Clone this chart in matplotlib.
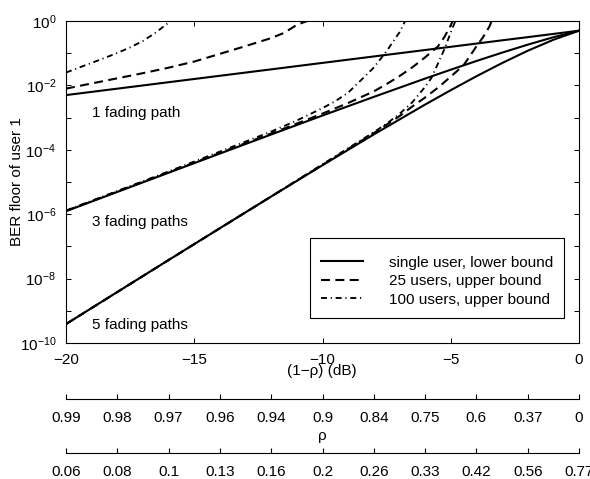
import matplotlib
matplotlib.use("Agg")
import matplotlib.pyplot as plt
from matplotlib.lines import Line2D
from matplotlib.patches import Rectangle

plt.rcParams['font.family'] = ['Liberation Sans', 'DejaVu Sans']
plt.rcParams['mathtext.fontset'] = 'custom'
plt.rcParams['mathtext.rm'] = 'Liberation Sans'
plt.rcParams['mathtext.it'] = 'Liberation Sans:italic'
plt.rcParams['mathtext.bf'] = 'Liberation Sans:bold'

# ---------------- data ----------------
db_grid = [-20, -18, -16, -14, -12, -10, -8, -6, -5, -4, -3, -2, -1, 0]
single_1 = [5.0e-3, 7.92e-3, 1.256e-2, 1.99e-2, 3.15e-2, 5.0e-2, 7.92e-2, 0.1256, 0.158, 0.199, 0.251, 0.315, 0.397, 0.5]
single_3 = [1.24e-6, 4.92e-6, 1.94e-5, 7.65e-5, 2.99e-4, 1.16e-3, 4.40e-3, 1.63e-2, 3.07e-2, 5.72e-2, 0.104, 0.184, 0.313, 0.5]
single_5 = [3.87e-10, 3.84e-9, 3.77e-8, 3.68e-7, 3.54e-6, 3.32e-5, 3.00e-4, 2.54e-3, 7.10e-3, 1.92e-2, 4.94e-2, 0.119, 0.261, 0.5]

db_1_25 = [-20, -19, -18, -17, -16, -15, -14, -13, -12, -11.5, -11, -10.6, -10.3]
ber_1_25 = [7.94e-3, 1.15e-2, 1.66e-2, 2.40e-2, 3.55e-2, 5.50e-2, 9.55e-2, 0.166, 0.295, 0.427, 0.759, 1.0, 1.58]

db_1_100 = [-20, -19.5, -19, -18.5, -18, -17.5, -17, -16.5, -16, -15.7]
ber_1_100 = [0.0251, 0.0355, 0.0501, 0.0708, 0.102, 0.151, 0.240, 0.437, 0.891, 1.58]

db_3_25 = [-20, -16, -12, -10, -9, -8, -7.5, -7, -6.5, -6, -5.5, -5.25, -5.0, -4.85]
ber_3_25 = [1.27e-6, 2.01e-5, 3.21e-4, 1.33e-3, 2.84e-3, 6.52e-3, 1.10e-2, 1.94e-2, 3.63e-2, 7.43e-2, 0.162, 0.316, 0.738, 1.35]

db_3_100 = [-20, -16, -14, -12, -11, -10, -9.5, -9, -8.5, -8, -7.5, -7, -6.8, -6.6]
ber_3_100 = [1.30e-6, 2.13e-5, 8.79e-5, 3.68e-4, 8.13e-4, 1.97e-3, 3.24e-3, 5.96e-3, 1.45e-2, 3.58e-2, 0.116, 0.444, 0.920, 2.19]

db_5_25 = [-20, -16, -12, -10, -8, -7, -6.5, -6, -5.5, -5, -4.5, -4.25, -4, -3.75, -3.5, -3.35]
ber_5_25 = [3.87e-10, 3.78e-8, 3.56e-6, 3.40e-5, 3.29e-4, 1.11e-3, 2.21e-3, 4.21e-3, 8.47e-3, 1.87e-2, 4.24e-2, 8.22e-2, 0.163, 0.306, 0.658, 1.26]

db_5_100 = [-20, -16, -12, -10, -8, -7.5, -7, -6.5, -6, -5.75, -5.5, -5.25, -5.0, -4.8, -4.65]
ber_5_100 = [3.87e-10, 3.77e-8, 3.55e-6, 3.56e-5, 3.52e-4, 6.47e-4, 1.30e-3, 2.98e-3, 8.99e-3, 1.72e-2, 4.76e-2, 0.132, 0.44, 1.09, 2.53]

legend_labels = ['single user, lower bound', '25 users, upper bound', '100 users, upper bound']
path_labels = ['1 fading path', '3 fading paths', '5 fading paths']
path_label_pos = [(-19.0, 1.4e-3), (-19.0, 5.7e-7), (-19.0, 3.6e-10)]

x_ticks = [-20, -15, -10, -5, 0]
x_ticklabels = ['\u221220', '\u221215', '\u221210', '\u22125', '0']
y_ticks = [1e-10, 1e-9, 1e-8, 1e-7, 1e-6, 1e-5, 1e-4, 1e-3, 1e-2, 1e-1, 1e0]
y_ticklabels = ['$10^{-10}$', '', '$10^{-8}$', '', '$10^{-6}$', '', '$10^{-4}$', '', '$10^{-2}$', '', '$10^{0}$']

sec_ticks = [-20, -18, -16, -14, -12, -10, -8, -6, -4, -2, 0]
rho_labels = ['0.99', '0.98', '0.97', '0.96', '0.94', '0.9', '0.84', '0.75', '0.6', '0.37', '0']
bdt_labels = ['0.06', '0.08', '0.1', '0.13', '0.16', '0.2', '0.26', '0.33', '0.42', '0.56', '0.77']

# ---------------- figure ----------------
W, H = 590, 479
fig = plt.figure(figsize=(W / 100, H / 100), dpi=100)
fig.patch.set_facecolor('white')

def fx(px):
    return px / W

def fy(py):
    return 1 - py / H

L, R, T, B = 66, 579, 21, 343
ax = fig.add_axes([fx(L), fy(B), fx(R - L), (B - T) / H])

lw = 1.5
solid = dict(color='black', lw=lw, linestyle='-')
dashed = dict(color='black', lw=lw, linestyle=(0, (4.3, 2.6)))
dashdot = dict(color='black', lw=lw * 0.9, linestyle=(0, (3.2, 2.0, 0.6, 2.0)))

ax.plot(db_grid, single_1, **solid)
ax.plot(db_grid, single_3, **solid)
ax.plot(db_grid, single_5, **solid)
ax.plot(db_1_25, ber_1_25, **dashed)
ax.plot(db_3_25, ber_3_25, **dashed)
ax.plot(db_5_25, ber_5_25, **dashed)
ax.plot(db_1_100, ber_1_100, **dashdot)
ax.plot(db_3_100, ber_3_100, **dashdot)
ax.plot(db_5_100, ber_5_100, **dashdot)

ax.set_yscale('log')
ax.set_xlim(-20, 0)
ax.set_ylim(1e-10, 1)
ax.set_xticks(x_ticks)
ax.set_xticklabels(x_ticklabels)
ax.set_yticks(y_ticks)
ax.set_yticklabels(y_ticklabels)
ax.yaxis.set_minor_locator(matplotlib.ticker.NullLocator())
ax.tick_params(direction='in', top=True, right=True, length=3.5, width=0.7,
               labelsize=11, colors='black')
ax.tick_params(axis='x', pad=7.3)
ax.tick_params(axis='y', pad=7)
for s in ax.spines.values():
    s.set_linewidth(0.8)

for (x, y), t in zip(path_label_pos, path_labels):
    ax.text(x, y, t, fontsize=11, va='center', ha='left')

# legend box (MATLAB style, extra space on top)
ax.add_patch(Rectangle(((310 - L) / (R - L), (B - 318.3) / (B - T)),
                       (564.3 - 310) / (R - L), (318.3 - 238.3) / (B - T),
                       transform=ax.transAxes, facecolor='white',
                       edgecolor='black', linewidth=0.8, zorder=4, clip_on=False))

handles = [Line2D([], [], **solid), Line2D([], [], **dashed), Line2D([], [], **dashdot)]
leg = ax.legend(handles, legend_labels, loc='lower right',
                bbox_to_anchor=(0.9713, 0.0767), borderaxespad=0, fontsize=11,
                frameon=False,
                handlelength=2.7, handletextpad=1.7, labelspacing=0.3,
                borderpad=0.75)
leg.set_zorder(6)

fig.text(fx(17), fy(182), 'BER floor of user 1', rotation=90, ha='center', va='center', fontsize=11)
fig.text(fx(322), fy(371), '(1\u2212\u03c1) (dB)', ha='center', va='center', fontsize=11)

def sec_axis(py, labels, title, title_y):
    a = fig.add_axes([fx(L), fy(py), fx(R - L), 1.0 / H])
    a.set_xlim(-20, 0)
    a.set_xticks(sec_ticks)
    a.set_xticklabels(labels)
    a.set_yticks([])
    for k in ('left', 'right', 'top'):
        a.spines[k].set_visible(False)
    a.spines['bottom'].set_linewidth(0.8)
    a.patch.set_visible(False)
    a.tick_params(axis='x', direction='in', length=3.5, width=0.8, labelsize=11, pad=8.5)
    fig.text(fx(322), fy(title_y), title, ha='center', va='center', fontsize=11)
    return a

sec_axis(399, rho_labels, '\u03c1', 436)
sec_axis(453, bdt_labels, 'B$_\\mathrm{D}$T', 489)

fig.savefig('out.png', dpi=100, facecolor='white')
